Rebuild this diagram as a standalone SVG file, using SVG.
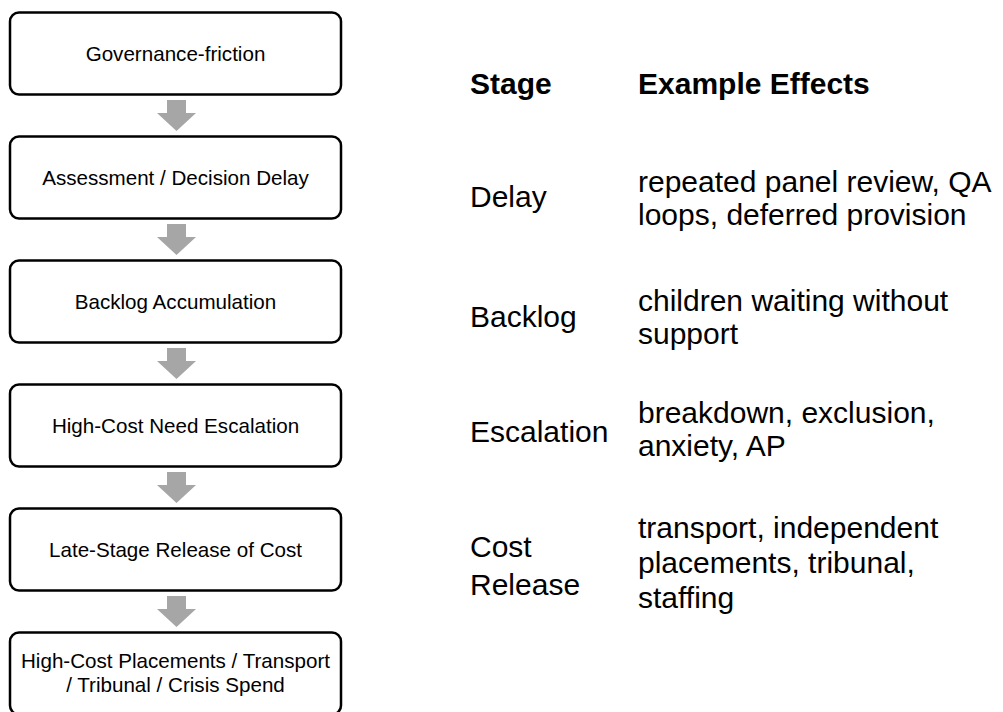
<svg xmlns="http://www.w3.org/2000/svg" width="1003" height="712" viewBox="0 0 1003 712">
<style>
.box{fill:#fff;stroke:#000;stroke-width:2.5}
.bt{font-family:"Liberation Sans",Arial,sans-serif;font-size:20.6px;fill:#000;text-anchor:middle}
.rt{font-family:"Liberation Sans",Arial,sans-serif;font-size:30px;fill:#000}
.hd{font-weight:bold}
.arr{fill:#A6A6A6}
</style>
<defs>
<path id="dn" class="arr" d="M167,0 H186 V13 H196 L176.5,31 L157,13 H167 Z"/>
</defs>
<rect width="1003" height="712" fill="#fff"/>
<g id="connectors">
<use href="#dn" y="100"/>
<use href="#dn" y="224"/>
<use href="#dn" y="348"/>
<use href="#dn" y="472"/>
<use href="#dn" y="596"/>
</g>
<g id="n1"><rect class="box" x="10" y="12.5" width="331" height="82" rx="9"/><text class="bt" x="175.5" y="60.5">Governance-friction</text></g>
<g id="n2"><rect class="box" x="10" y="136.5" width="331" height="82" rx="9"/><text class="bt" x="175.5" y="184.5">Assessment / Decision Delay</text></g>
<g id="n3"><rect class="box" x="10" y="260.5" width="331" height="82" rx="9"/><text class="bt" x="175.5" y="308.5">Backlog Accumulation</text></g>
<g id="n4"><rect class="box" x="10" y="384.5" width="331" height="82" rx="9"/><text class="bt" x="175.5" y="432.5">High-Cost Need Escalation</text></g>
<g id="n5"><rect class="box" x="10" y="508.5" width="331" height="82" rx="9"/><text class="bt" x="175.5" y="556.5">Late-Stage Release of Cost</text></g>
<g id="n6"><rect class="box" x="10" y="632.5" width="331" height="82" rx="9"/><text class="bt" x="175.5" y="668">High-Cost Placements / Transport</text><text class="bt" x="175.5" y="692">/ Tribunal / Crisis Spend</text></g>
<g id="table">
<text class="rt hd" x="470" y="94">Stage</text>
<text class="rt hd" x="638" y="94">Example Effects</text>
<text class="rt" x="470" y="207">Delay</text>
<text class="rt" x="638" y="192">repeated panel review, QA</text>
<text class="rt" x="638" y="225">loops, deferred provision</text>
<text class="rt" x="470" y="327">Backlog</text>
<text class="rt" x="638" y="311">children waiting without</text>
<text class="rt" x="638" y="344">support</text>
<text class="rt" x="470" y="442">Escalation</text>
<text class="rt" x="638" y="423">breakdown, exclusion,</text>
<text class="rt" x="638" y="456">anxiety, AP</text>
<text class="rt" x="470" y="557">Cost</text>
<text class="rt" x="470" y="595">Release</text>
<text class="rt" x="638" y="538">transport, independent</text>
<text class="rt" x="638" y="573">placements, tribunal,</text>
<text class="rt" x="638" y="608">staffing</text>
</g>
</svg>
